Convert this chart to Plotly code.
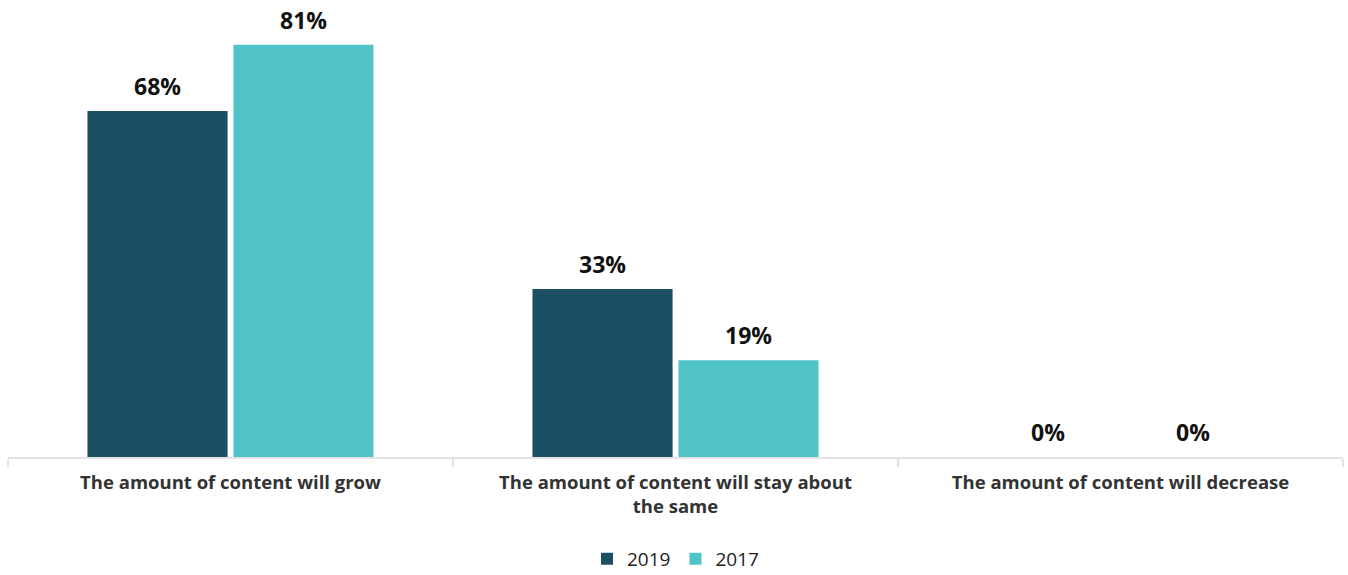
import plotly.graph_objects as go

categories = ["The amount of content will grow",
              "The amount of content will stay about<br>the same",
              "The amount of content will decrease"]
series_names = ["2019", "2017"]
values_2019 = [68, 33, 0]
values_2017 = [81, 19, 0]
colors = ["#1b4f63", "#51c4ca"]

BARGAP = 0.344
GROUPGAP = 0.04
FONT = "Open Sans"

fig = go.Figure()
n = len(series_names)
slot = (1 - BARGAP) / n
for k, (name, vals, col) in enumerate(zip(series_names, [values_2019, values_2017], colors)):
    fig.add_trace(go.Bar(
        x=categories, y=vals, name=name, marker_color=col,
        marker_line_width=0, cliponaxis=False,
    ))
    offset = -(1 - BARGAP) / 2 + slot * (k + 0.5)
    for i, v in enumerate(vals):
        fig.add_annotation(
            x=i + offset, y=v, xref="x", yref="y",
            text=f"<b>{v}%</b>", showarrow=False,
            yanchor="bottom", yshift=7,
            font=dict(family=FONT, size=23, color="#111111"),
        )

fig.update_layout(
    width=1348, height=575,
    margin=dict(l=8, r=5, t=0, b=118, autoexpand=False),
    barmode="group", bargap=BARGAP, bargroupgap=GROUPGAP,
    plot_bgcolor="white", paper_bgcolor="white",
    font=dict(family=FONT, color="#333333"),
    showlegend=True,
    legend=dict(orientation="h", x=0.5, xanchor="center", y=-0.223, yanchor="middle",
                font=dict(family=FONT, size=19, color="#222222"),
                traceorder="normal", itemwidth=30),
)
fig.update_xaxes(
    automargin=False,
    showline=True, linecolor="#e3e3e3", linewidth=2,
    ticks="outside", tickson="boundaries", ticklen=8, tickcolor="#e3e3e3", tickwidth=2,
    tickfont=dict(family=FONT, size=18.5, color="#333333", weight="bold"),
    ticklabelstandoff=8,
    showgrid=False,
)
fig.update_yaxes(range=[0, 89.8], visible=False, showgrid=False, automargin=False)

fig.write_html("out.html", config={"displayModeBar": False},
               post_script="document.body.style.margin='0';")
